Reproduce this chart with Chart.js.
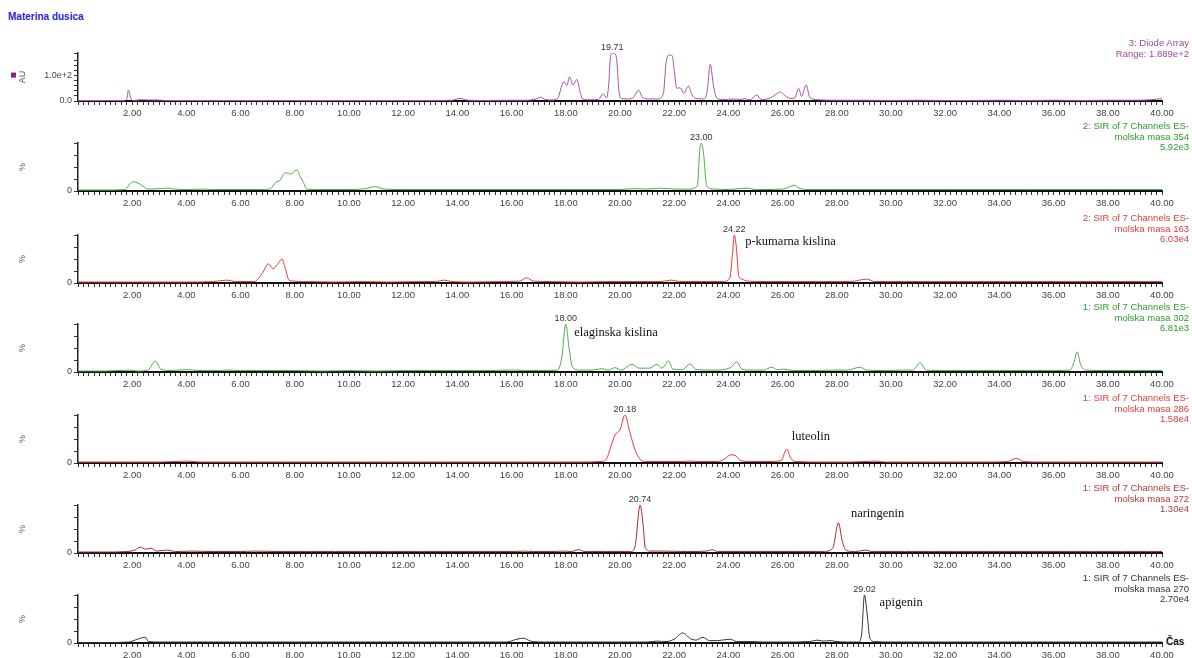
<!DOCTYPE html>
<html><head><meta charset="utf-8">
<script src="https://cdn.jsdelivr.net/npm/chart.js@4.4.0/dist/chart.umd.min.js"></script>
<style>
html,body{margin:0;padding:0;background:#fff;width:1192px;height:658px;overflow:hidden;position:relative;font-family:"Liberation Sans",Arial,sans-serif}
canvas{position:absolute;left:0}
.hdr{position:absolute;right:3px;text-align:right;font-size:9.5px;line-height:10.5px;white-space:nowrap}
#title{position:absolute;left:8px;top:11px;font-weight:bold;font-size:10px;color:#2626d9}
#cas{position:absolute;left:1166px;top:636px;font-weight:bold;font-size:10px;color:#111}
</style></head><body>
<div id="title">Materina dusica</div>
<div id="cas">Čas</div>
<script>
// ---------- DATA ----------
const channelNames = ['3: Diode Array','2: SIR of 7 Channels ES-','2: SIR of 7 Channels ES-','1: SIR of 7 Channels ES-','1: SIR of 7 Channels ES-','1: SIR of 7 Channels ES-','1: SIR of 7 Channels ES-'];
const channelMasses = ['Range: 1.889e+2','molska masa 354','molska masa 163','molska masa 302','molska masa 286','molska masa 272','molska masa 270'];
const channelIntensities = ['','5.92e3','6.03e4','6.81e3','1.58e4','1.30e4','2.70e4'];
const peakTimes = [19.71, 23.00, 24.22, 18.00, 20.18, 20.74, 29.02];
const peakLabels = ['19.71','23.00','24.22','18.00','20.18','20.74','29.02'];
const compoundNames = [null, null, 'p-kumarna kislina', 'elaginska kislina', 'luteolin', 'naringenin', 'apigenin'];
const xTickLabelsEvery = 2; // minutes (2.00 … 40.00)

// time (min), absorbance (AU)
const diodeArray = [[0.0,2],[1.0,2],[1.7,2],[1.8,8],[1.86,43],[1.95,8],[2.05,2],[2.3,5],[2.6,4],[2.9,4],[3.2,2],[4.0,2],[5.0,2],[6.0,2],[7.0,2],[8.0,2],[9.0,2],[10.0,2],[11.0,2],[12.0,2],[13.0,2],[13.8,3],[14.1,10],[14.4,3],[15.0,2],[16.0,3],[16.6,3],[16.9,8],[17.07,15],[17.25,6],[17.5,4],[17.7,10],[17.85,60],[17.94,76],[18.04,62],[18.14,95],[18.26,63],[18.41,85],[18.52,40],[18.62,8],[18.9,5],[19.2,6],[19.39,28],[19.5,12],[19.58,60],[19.65,175],[19.71,189],[19.8,187],[19.88,160],[19.96,40],[20.05,10],[20.3,8],[20.5,15],[20.68,43],[20.85,12],[21.1,8],[21.4,8],[21.6,30],[21.7,150],[21.8,181],[21.93,178],[22.0,120],[22.1,50],[22.22,52],[22.35,30],[22.53,59],[22.65,25],[22.8,10],[23.1,8],[23.22,40],[23.33,144],[23.45,60],[23.58,10],[23.8,6],[24.2,8],[24.4,6],[24.6,9],[24.8,5],[25.05,24],[25.2,6],[25.5,10],[25.8,30],[25.91,36],[26.1,20],[26.3,10],[26.45,12],[26.59,50],[26.7,18],[26.87,63],[27.0,15],[27.3,5],[28.0,3],[29.0,3],[30.0,2],[31.0,3],[32.0,2],[33.0,2],[34.0,3],[35.0,2],[36.0,3],[37.0,2],[38.0,3],[39.0,3],[39.6,5],[40.0,9]];
// time (min), relative intensity (%)
const sir354 = [[0.0,2],[1.0,2],[1.75,3],[1.9,14],[2.05,19],[2.2,17],[2.4,10],[2.6,4],[3.0,5],[3.3,6],[3.6,4],[4.0,3],[4.6,4],[5.0,3],[6.0,3],[6.8,3],[7.1,5],[7.3,18],[7.46,23],[7.6,36],[7.7,38],[7.85,35],[8.0,42],[8.08,44],[8.2,30],[8.3,20],[8.45,4],[9.0,3],[10.0,3],[10.6,5],[10.97,9],[11.3,4],[12.0,3],[13.0,3],[14.0,3],[15.0,3],[16.0,3],[17.0,3],[18.0,3],[19.0,3],[20.0,3],[20.5,5],[21.0,4],[21.5,6],[22.0,4],[22.5,4],[22.85,10],[22.95,90],[23.0,100],[23.08,80],[23.2,10],[23.5,4],[24.0,3],[24.7,6],[25.0,3],[26.0,4],[26.45,12],[26.6,6],[27.0,3],[28.0,3],[29.0,3],[30.0,3],[31.0,3],[32.0,3],[33.0,3],[34.0,3],[35.0,3],[36.0,3],[37.0,3],[38.0,3],[39.0,3],[40.0,3]];
const sir163 = [[0,2],[1,2],[2,2],[3,2],[4,2],[5.0,3],[5.5,6],[5.8,3],[6.5,3],[6.8,20],[7.02,40],[7.2,30],[7.35,38],[7.53,50],[7.65,30],[7.8,5],[8.5,3],[9.5,2],[10.5,3],[11.5,2],[12.5,3],[13.2,3],[13.5,6],[13.8,3],[14.5,2],[15.5,3],[16.3,4],[16.56,11],[16.8,4],[17.5,3],[18.5,2],[19.5,3],[20.5,3],[21.5,3],[21.9,6],[22.2,3],[23.0,3],[23.8,3],[24.05,10],[24.15,60],[24.22,100],[24.3,70],[24.38,15],[24.5,8],[24.7,4],[25.5,3],[26.5,3],[27.5,3],[28.5,3],[29.1,8],[29.4,3],[30.5,3],[31.5,3],[32.5,3],[33.5,3],[34.5,3],[35.5,3],[36.5,3],[37.5,3],[38.5,3],[39.5,3],[40,3]];
const sir302 = [[0,2],[1,2],[1.9,4],[2.2,2],[2.6,5],[2.85,23],[3.05,6],[3.4,3],[4.0,5],[4.5,3],[5.0,3],[5.5,4],[6.0,3],[7.0,3],[8.0,3],[9.0,2],[10.0,3],[11.0,2],[12.0,3],[13.0,3],[14.0,3],[15.0,3],[16.0,4],[17.0,3],[17.7,4],[17.85,30],[18.0,100],[18.12,50],[18.25,10],[18.5,4],[19.0,4],[19.33,7],[19.55,4],[19.82,9],[20.05,4],[20.44,16],[20.7,8],[21.1,8],[21.36,16],[21.55,8],[21.79,23],[21.95,6],[22.3,5],[22.59,17],[22.8,5],[23.5,4],[24.07,9],[24.31,21],[24.5,6],[24.9,4],[25.3,4],[25.6,10],[25.8,5],[26.03,6],[26.4,3],[27.0,3],[27.87,4],[28.4,4],[28.86,10],[29.1,4],[29.8,3],[30.46,4],[30.8,4],[31.08,19],[31.3,4],[32,3],[33,3],[34,3],[35,3],[36,3],[36.6,4],[36.75,20],[36.87,42],[37.0,15],[37.2,4],[38,3],[39,3],[40,3]];
const sir286 = [[0,2],[1,2],[2,2],[3,2],[4.0,4],[4.5,2],[5.5,2],[6.5,2],[7.5,2],[8.5,2],[9.5,2],[10.5,2],[11.5,2],[12.5,2],[13.5,2],[14.5,2],[15.5,2],[16.5,2],[17.5,2],[18.5,2],[19.3,3],[19.5,8],[19.64,30],[19.82,59],[20.0,69],[20.18,100],[20.37,63],[20.55,28],[20.74,8],[20.95,3],[21.5,3],[22.3,3],[22.59,4],[22.9,3],[23.6,3],[23.9,10],[24.07,17],[24.25,16],[24.45,5],[24.8,3],[25.4,3],[25.95,5],[26.1,25],[26.16,29],[26.3,10],[26.5,3],[27.5,2],[28.5,2],[29.42,4],[29.8,2],[30.5,2],[31.5,2],[32.5,2],[33.5,2],[34.3,3],[34.63,10],[34.9,3],[35.5,2],[36.5,2],[37.5,2],[38.5,2],[39.5,2],[40,2]];
const sir272 = [[0,2],[1,2],[1.8,3],[2.1,6],[2.3,12],[2.5,8],[2.7,10],[2.9,4],[3.3,6],[3.6,3],[4.2,4],[5.0,3],[6.0,3],[6.5,4],[7.5,3],[8.5,3],[9.5,3],[10.5,3],[11.5,3],[12.5,3],[13.5,3],[14.5,3],[15.5,3],[16.1,3],[16.44,4],[16.8,3],[17.5,3],[17.92,4],[18.2,3],[18.47,7],[18.7,3],[19.5,3],[20.4,3],[20.56,15],[20.74,100],[20.85,60],[20.93,12],[21.1,4],[21.6,4],[22.5,3],[23.2,4],[23.39,7],[23.6,3],[24.5,3],[25.5,3],[26.5,3],[27.5,3],[27.85,10],[28.06,63],[28.2,25],[28.35,5],[28.7,3],[29.05,6],[29.3,3],[30.5,3],[31.5,3],[32.5,3],[33.5,3],[34.5,3],[35.5,3],[36.5,3],[37.5,3],[38.5,3],[39.5,3],[40,3]];
const sir270 = [[0,1],[1,1],[1.86,2],[2.2,8],[2.48,12],[2.6,3],[3.0,2],[4,2],[5,2],[6,2],[7,2],[8,2],[9,2],[10,2],[11,2],[12,2],[13,2],[14,2],[15,2],[15.8,2],[16.2,8],[16.44,10],[16.7,4],[17.2,2],[18,2],[19,2],[20,2],[21.0,2],[21.36,4],[21.7,3],[22.0,8],[22.32,21],[22.6,9],[22.8,6],[23.06,12],[23.3,5],[23.6,5],[24.07,8],[24.3,3],[24.8,3],[25.3,2],[26.0,2],[27.0,3],[27.27,6],[27.5,4],[27.75,5],[28.0,3],[28.4,2],[28.8,2],[28.92,20],[29.02,100],[29.12,60],[29.22,10],[29.4,3],[30,2],[31,2],[32,2],[33,2],[34,2],[35,2],[36,2],[37,2],[38,2],[39,2],[40,2]];

// ---------- LAYOUT / STYLE ----------
const FONT = '"Liberation Sans", Arial, sans-serif';
Chart.defaults.font.family = FONT;
const baselines = [101,191,283,372,463,553,643];
const nameAnchors = [null,null,[24.62,86],[18.31,82],[26.34,55],[28.52,81],[29.58,83]];
const PLOT_H = 48, PAD_TOP = 12, X_H = 20;
const pctLabel = v => v === 0 ? '0' : '';
const panels = [
  {data: diodeArray, line:'#a452a8', text:'#a045a0', yMax:189, yStep:20, title:'AU', yLabel: v => v===0 ? '0.0' : (v===100 ? '1.0e+2' : '')},
  {data: sir354, line:'#4caa4c', text:'#2e9a2e', yMax:100, yStep:25, title:'%', yLabel: pctLabel},
  {data: sir163, line:'#ee3636', text:'#e63a3a', yMax:100, yStep:25, title:'%', yLabel: pctLabel},
  {data: sir302, line:'#4caa4c', text:'#2e9a2e', yMax:100, yStep:25, title:'%', yLabel: pctLabel},
  {data: sir286, line:'#ee3636', text:'#e63a3a', yMax:100, yStep:25, title:'%', yLabel: pctLabel},
  {data: sir272, line:'#a82828', text:'#b03a3a', yMax:100, yStep:25, title:'%', yLabel: pctLabel},
  {data: sir270, line:'#333333', text:'#333333', yMax:100, yStep:25, title:'%', yLabel: pctLabel}
];

function notes(i){
  return {id:'notes'+i, afterDatasetsDraw(chart){
    const {ctx, scales:{x, y}} = chart;
    const top = panels[i].data.reduce((m,q) => q[1] > m[1] ? q : m);
    ctx.save();
    ctx.font = '9px ' + FONT; ctx.fillStyle = '#333'; ctx.textAlign = 'center'; ctx.textBaseline = 'bottom';
    ctx.fillText(peakLabels[i], x.getPixelForValue(peakTimes[i]), y.getPixelForValue(top[1]) - 1);
    if (compoundNames[i]) {
      const [t, v] = nameAnchors[i];
      ctx.font = '12.5px "Liberation Serif", "Times New Roman", serif'; ctx.fillStyle = '#111';
      ctx.textAlign = 'left'; ctx.textBaseline = 'middle';
      ctx.fillText(compoundNames[i], x.getPixelForValue(t), y.getPixelForValue(v));
    }
    if (i === 0) { ctx.fillStyle = '#8a1f8a'; ctx.fillRect(11, y.getPixelForValue(104) - 2, 5, 5); }
    ctx.restore();
  }};
}

panels.forEach((p, i) => {
  const cv = document.createElement('canvas');
  cv.width = 1192; cv.height = PAD_TOP + PLOT_H + X_H;
  cv.style.top = (baselines[i] - PLOT_H - PAD_TOP) + 'px';
  document.body.appendChild(cv);

  const hdr = document.createElement('div');
  hdr.className = 'hdr';
  hdr.style.color = p.text;
  const lines = [channelNames[i], channelMasses[i], channelIntensities[i]].filter(s => s);
  hdr.innerHTML = lines.join('<br>');
  hdr.style.top = (baselines[i] - (lines.length === 3 ? 70 : 63)) + 'px';
  document.body.appendChild(hdr);

  new Chart(cv, {
    type: 'line',
    data: {datasets: [{data: p.data.map(([x, y]) => ({x, y})), borderColor: p.line, borderWidth: 1,
      pointRadius: 0, fill: false, cubicInterpolationMode: 'monotone'}]},
    options: {
      responsive: false, animation: false, devicePixelRatio: 1,
      layout: {padding: {top: PAD_TOP, right: 30, left: 0, bottom: 0}},
      plugins: {legend: {display: false}, tooltip: {enabled: false}},
      scales: {
        x: {type: 'linear', min: 0, max: 40, afterFit: s => { s.height = X_H; },
          border: {color: '#111', width: 2},
          grid: {drawOnChartArea: false, tickLength: 4, color: '#333'},
          ticks: {stepSize: 0.2, autoSkip: false, maxRotation: 0, padding: 3, font: {size: 9.5}, color: '#444',
            callback: v => (v > 0 && Math.abs(v / xTickLabelsEvery - Math.round(v / xTickLabelsEvery)) < 1e-6) ? v.toFixed(2) : ''}},
        y: {min: 0, max: p.yMax, afterFit: s => { s.width = 78; },
          border: {color: '#222', width: 1.5},
          grid: {drawOnChartArea: false, tickLength: 4, color: '#333'},
          ticks: {stepSize: p.yStep, autoSkip: false, padding: 2, font: {size: 9}, color: '#444', callback: p.yLabel},
          title: {display: true, text: p.title, font: {size: 9}, color: '#555', padding: {top: 17, bottom: 0}}}
      }
    },
    plugins: [notes(i)]
  });
});
</script></body></html>
